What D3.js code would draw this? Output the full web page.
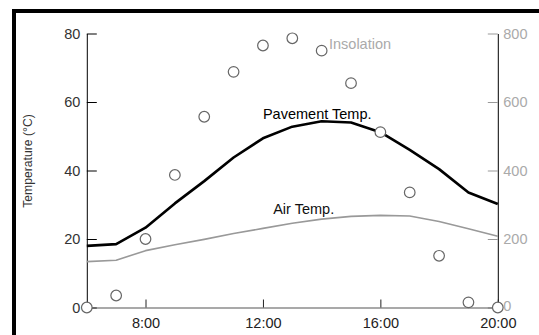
<!DOCTYPE html>
<html>
<head>
<meta charset="utf-8">
<script src="https://cdn.jsdelivr.net/npm/d3@7"></script>
<style>
  html, body { margin: 0; padding: 0; background: #fff; }
  svg { display: block; font-family: "Liberation Sans", Arial, sans-serif; }
</style>
</head>
<body>
<svg id="chart" width="539" height="335"></svg>
<script>
// Hour of day for each reading
const hours = [6, 7, 8, 9, 10, 11, 12, 13, 14, 15, 16, 17, 18, 19, 20];
// Pavement surface temperature (°C)
const pavementTemp = [18.0, 18.5, 23.3, 30.4, 36.9, 43.8, 49.4, 52.8, 54.4, 54.0, 51.2, 46.0, 40.4, 33.6, 30.2];
// Air temperature (°C)
const airTemp = [13.4, 13.8, 16.6, 18.3, 19.9, 21.6, 23.1, 24.6, 25.8, 26.6, 26.9, 26.7, 25.1, 23.0, 20.8];
// Solar insolation (W/m²)
const insolation = [0, 35, 200, 387, 557, 688, 765, 786, 750, 655, 512, 336, 151, 15, 0];
// Axis ticks
const xTicks = [8, 12, 16, 20];
const tempTicks = [0, 20, 40, 60, 80];
const insTicks = [0, 200, 400, 600, 800];

const svg = d3.select("#chart");

// Frame around the figure
svg.append("rect")
  .attr("x", 14).attr("y", 11)
  .attr("width", 600).attr("height", 400)
  .attr("fill", "none").attr("stroke", "#000").attr("stroke-width", 4);

const x = d3.scaleLinear().domain([6, 20]).range([86.8, 497.8]);
const yT = d3.scaleLinear().domain([0, 80]).range([307.5, 33.5]);
const yI = d3.scaleLinear().domain([0, 800]).range([307.5, 33.5]);

const fontSize = 14.5;

// Left temperature axis
const leftAxis = svg.append("g")
  .attr("transform", `translate(${x(6)},0)`)
  .call(d3.axisLeft(yT).tickValues(tempTicks).tickSize(-10).tickSizeOuter(0).tickPadding(6.5));
leftAxis.select(".domain").attr("stroke", "#000");
leftAxis.selectAll(".tick line").attr("stroke", "#000");
leftAxis.selectAll(".tick text").attr("fill", "#333").attr("font-size", fontSize)
  .attr("font-family", "Liberation Sans, Arial, sans-serif");

// Right insolation axis
const rightAxis = svg.append("g")
  .attr("transform", `translate(${x(20)},0)`)
  .call(d3.axisRight(yI).tickValues(insTicks).tickSize(-10).tickSizeOuter(0).tickPadding(5.5));
rightAxis.select(".domain").attr("stroke", "#000");
rightAxis.selectAll(".tick line").attr("stroke", "#999");
rightAxis.selectAll(".tick text").attr("fill", "#aaa").attr("font-size", fontSize)
  .attr("font-family", "Liberation Sans, Arial, sans-serif");
// the zero label sits just above the time labels
rightAxis.selectAll(".tick text").filter(d => d === 0).attr("dy", "0.2em");

// Time axis
const bottomAxis = svg.append("g")
  .attr("transform", `translate(0,${yT(0)})`)
  .call(d3.axisBottom(x).tickValues(xTicks).tickFormat(d => d + ":00")
    .tickSize(-8).tickSizeOuter(0).tickPadding(10));
bottomAxis.select(".domain").attr("stroke", "#555").attr("stroke-width", 1.2);
bottomAxis.selectAll(".tick line").attr("stroke", "#222");
bottomAxis.selectAll(".tick text").attr("fill", "#222").attr("font-size", fontSize)
  .attr("font-family", "Liberation Sans, Arial, sans-serif");

// Y axis title
svg.append("text")
  .attr("transform", `translate(32,161) rotate(-90)`)
  .attr("text-anchor", "middle")
  .attr("font-size", 12.2)
  .attr("fill", "#333")
  .text("Temperature (°C)");

// Temperature line generator
const lineT = (vals) => d3.line()
  .x((d, i) => x(hours[i]))
  .y(d => yT(d))(vals);

// Air temperature line
svg.append("path")
  .attr("d", lineT(airTemp))
  .attr("fill", "none").attr("stroke", "#999").attr("stroke-width", 1.6)
  .attr("stroke-linejoin", "round");

// Pavement temperature line
svg.append("path")
  .attr("d", lineT(pavementTemp))
  .attr("fill", "none").attr("stroke", "#000").attr("stroke-width", 2.6)
  .attr("stroke-linejoin", "round");

// Insolation markers
svg.append("g").selectAll("circle")
  .data(insolation)
  .join("circle")
  .attr("cx", (d, i) => x(hours[i]))
  .attr("cy", d => yI(d))
  .attr("r", 5.3)
  .attr("fill", "#fff")
  .attr("stroke", "#666")
  .attr("stroke-width", 1.2);

// Series labels
svg.append("text")
  .attr("x", x(12)).attr("y", yT(55))
  .attr("font-size", fontSize).attr("fill", "#000")
  .text("Pavement Temp.");

svg.append("text")
  .attr("x", x(12.35)).attr("y", yT(27.3))
  .attr("font-size", fontSize).attr("fill", "#111")
  .text("Air Temp.");

svg.append("text")
  .attr("x", x(14.25)).attr("y", yI(754))
  .attr("font-size", fontSize).attr("fill", "#aaa")
  .text("Insolation");
</script>
</body>
</html>
